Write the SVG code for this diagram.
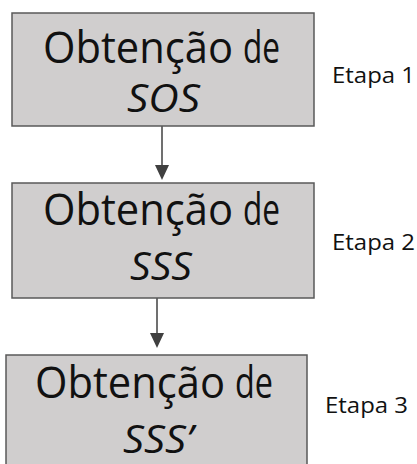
<svg xmlns="http://www.w3.org/2000/svg" width="417" height="464" viewBox="0 0 417 464">
  <style>
    .box { fill: #d0cece; stroke: #595959; stroke-width: 1.5; }
    .t1 { font-family: "Open Sans", "Liberation Sans", sans-serif; font-size: 43px; fill: #111; }
    .t2 { font-family: "Open Sans", "Liberation Sans", sans-serif; font-size: 38px; font-style: italic; fill: #111; }
    .lbl { font-family: "Open Sans", "Liberation Sans", sans-serif; font-size: 21px; fill: #111; }
    .conn { stroke: #404040; stroke-width: 1.5; fill: none; }
  </style>
  <rect width="417" height="464" fill="#fff"/>
  <g id="connectors">
    <line class="conn" x1="162" y1="126" x2="162" y2="167"/>
    <path d="M155,165 L169,165 L162,180 Z" fill="#404040"/>
    <line class="conn" x1="157" y1="298" x2="157" y2="335"/>
    <path d="M150,333 L164,333 L157,348 Z" fill="#404040"/>
  </g>
  <g id="node1">
    <rect class="box" x="12" y="13" width="302" height="113"/>
    <text class="t1" x="43" y="63" textLength="190" lengthAdjust="spacingAndGlyphs">Obtenção</text>
    <text class="t1" x="243" y="63" textLength="37" lengthAdjust="spacingAndGlyphs">de</text>
    <text class="t2" x="127" y="112" textLength="73" lengthAdjust="spacingAndGlyphs">SOS</text>
  </g>
  <g id="label1"><text class="lbl" x="332" y="83" textLength="83" lengthAdjust="spacingAndGlyphs">Etapa 1</text></g>
  <g id="node2">
    <rect class="box" x="12" y="183" width="302" height="115"/>
    <text class="t1" x="43" y="225" textLength="190" lengthAdjust="spacingAndGlyphs">Obtenção</text>
    <text class="t1" x="243" y="225" textLength="37" lengthAdjust="spacingAndGlyphs">de</text>
    <text class="t2" x="130" y="280" textLength="62" lengthAdjust="spacingAndGlyphs">SSS</text>
  </g>
  <g id="label2"><text class="lbl" x="332" y="250" textLength="83" lengthAdjust="spacingAndGlyphs">Etapa 2</text></g>
  <g id="node3">
    <rect class="box" x="6" y="355" width="301" height="120"/>
    <text class="t1" x="35" y="398" textLength="190" lengthAdjust="spacingAndGlyphs">Obtenção</text>
    <text class="t1" x="235" y="398" textLength="38" lengthAdjust="spacingAndGlyphs">de</text>
    <text class="t2" x="123" y="453" textLength="70" lengthAdjust="spacingAndGlyphs">SSS’</text>
  </g>
  <g id="label3"><text class="lbl" x="325" y="413" textLength="83" lengthAdjust="spacingAndGlyphs">Etapa 3</text></g>
</svg>
